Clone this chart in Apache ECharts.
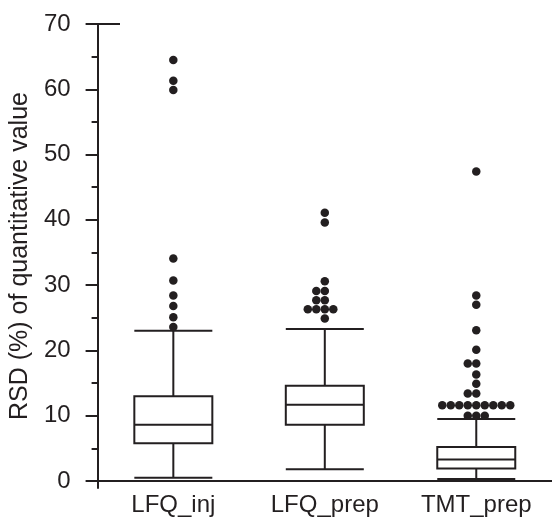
<!DOCTYPE html>
<html>
<head>
<meta charset="utf-8">
<script src="https://cdn.jsdelivr.net/npm/echarts@6/dist/echarts.min.js"></script>
<style>
html,body{margin:0;padding:0;background:#fff;}
#chart{width:552px;height:517px;}
</style>
</head>
<body>
<div id="chart"></div>
<script>
// ---- data ----
const categories = ['LFQ_inj', 'LFQ_prep', 'TMT_prep'];
// [min whisker, Q1, median, Q3, max whisker]
const boxLFQinj  = [0.5, 5.8, 8.6, 13.0, 23.0];
const boxLFQprep = [1.8, 8.6, 11.7, 14.6, 23.3];
const boxTMTprep = [0.3, 1.9, 3.3, 5.2, 9.5];
const outLFQinj  = [64.5, 61.3, 59.9, 34.1, 30.7, 28.4, 26.8, 25.1, 23.6];
const outLFQprep = [41.1, 39.6, 30.6, 29.1, 29.1, 27.7, 27.7, 26.3, 26.3, 26.3, 26.3, 24.9];
const outTMTprep = [47.4, 28.4, 27.0, 23.1, 20.1, 18.0, 18.0, 16.3, 14.9, 13.4, 13.4,
                    11.6, 11.6, 11.6, 11.6, 11.6, 11.6, 11.6, 11.6, 11.6, 10.0, 10.0, 10.0];
const yMajorTicks = [0, 10, 20, 30, 40, 50, 60, 70];
const yMinorTicks = [5, 15, 25, 35, 45, 55, 65];
const yTitle = 'RSD (%) of quantitative value';

// ---- chart ----
const ink = '#231f20';
const font = "'Liberation Sans', Arial, Helvetica, sans-serif";
const gridLeft = 92;
const yMin = -1.07, yMax = 70;

const outliers = [];
[outLFQinj, outLFQprep, outTMTprep].forEach((arr, i) => {
  arr.forEach(v => outliers.push([categories[i], v]));
});

const chart = echarts.init(document.getElementById('chart'), null, {renderer: 'canvas'});
chart.setOption({
  animation: false,
  backgroundColor: '#fff',
  grid: {left: gridLeft, right: -2, top: 24, bottom: 29, containLabel: false},
  xAxis: {
    type: 'category',
    data: categories,
    boundaryGap: true,
    jitter: 100,
    jitterOverlap: false,
    jitterMargin: 0,
    axisLine: {show: true, lineStyle: {color: ink, width: 2}},
    axisTick: {show: false},
    axisLabel: {color: ink, fontSize: 24, fontFamily: font, margin: 5},
    splitLine: {show: false}
  },
  yAxis: [{
    type: 'value',
    min: yMin, max: yMax,
    name: yTitle,
    nameLocation: 'middle',
    nameRotate: 90,
    nameGap: 51,
    nameTextStyle: {color: ink, fontSize: 25, fontFamily: font},
    axisLine: {show: true, lineStyle: {color: ink, width: 2}},
    axisTick: {show: true, length: 12, customValues: yMajorTicks, lineStyle: {color: ink, width: 2}},
    axisLabel: {color: ink, fontSize: 24, fontFamily: font, margin: 27, customValues: yMajorTicks},
    splitLine: {show: false}
  }, {
    type: 'value',
    position: 'left',
    min: yMin, max: yMax,
    axisLine: {show: false},
    axisTick: {show: true, length: 6, customValues: yMinorTicks, lineStyle: {color: ink, width: 2}},
    axisLabel: {show: false},
    splitLine: {show: false}
  }],
  series: [{
    type: 'boxplot',
    data: [boxLFQinj, boxLFQprep, boxTMTprep],
    boxWidth: [78, 78],
    itemStyle: {color: '#fff', borderColor: ink, borderWidth: 2},
    emphasis: {disabled: true}
  }, {
    type: 'scatter',
    data: outliers,
    symbol: 'circle',
    symbolSize: 8.5,
    itemStyle: {color: ink, opacity: 1},
    emphasis: {disabled: true}
  }]
});

const yTop = chart.convertToPixel({yAxisIndex: 0}, 70);
chart.setOption({
  graphic: [{
    type: 'line',
    shape: {x1: gridLeft, y1: yTop, x2: gridLeft + 28, y2: yTop},
    style: {stroke: ink, lineWidth: 2}
  }]
});
</script>
</body>
</html>
